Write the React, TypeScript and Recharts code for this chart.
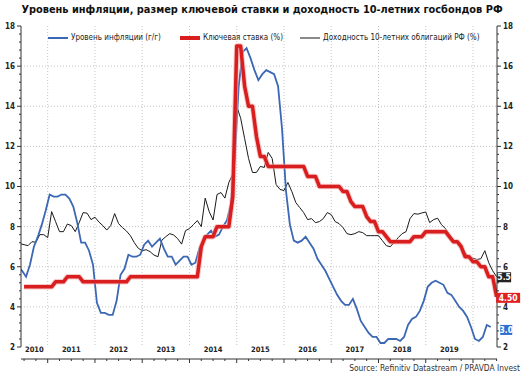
import React from "react";
import { LineChart, Line, XAxis, YAxis, CartesianGrid, Legend } from "recharts";

const FONT = "'DejaVu Sans Condensed', 'DejaVu Sans', sans-serif";

// CPI, % y/y, monthly from May 2010 (plotted mid-month)
const inflation = [
  6.0, 5.8, 5.5, 6.1, 7.0, 7.5, 8.1, 8.8,
  9.6, 9.5, 9.5, 9.6, 9.6, 9.4, 9.0, 8.2, 7.2, 7.2, 6.8, 6.1,
  4.2, 3.7, 3.7, 3.6, 3.6, 4.3, 5.6, 5.9, 6.6, 6.5, 6.5, 6.6,
  7.1, 7.3, 7.0, 7.2, 7.4, 6.9, 6.5, 6.5, 6.1, 6.3, 6.5, 6.5,
  6.1, 6.2, 6.9, 7.3, 7.6, 7.8, 7.5, 7.6, 8.0, 8.3, 9.1, 11.4,
  15.0, 16.7, 16.9, 16.4, 15.8, 15.3, 15.6, 15.8, 15.7, 15.6, 15.0, 12.9,
  9.8, 8.1, 7.3, 7.2, 7.3, 7.5, 7.2, 6.9, 6.4, 6.1, 5.8, 5.4,
  5.0, 4.6, 4.3, 4.1, 4.1, 4.4, 3.9, 3.3, 3.0, 2.7, 2.5, 2.5,
  2.2, 2.2, 2.4, 2.4, 2.4, 2.3, 2.5, 3.1, 3.4, 3.5, 3.8, 4.3,
  5.0, 5.2, 5.3, 5.2, 5.1, 4.7, 4.6, 4.3, 4.0, 3.8, 3.5, 3.0,
  2.4, 2.3, 2.5, 3.1, 3.0,
];

// key rate, %, month-end from Jun 2010
const keyRate = [
  5.0, 5.0, 5.0, 5.0, 5.0, 5.0, 5.0,
  5.0, 5.25, 5.25, 5.25, 5.5, 5.5, 5.5, 5.5, 5.25, 5.25, 5.25, 5.25,
  5.25, 5.25, 5.25, 5.25, 5.25, 5.25, 5.25, 5.25, 5.5, 5.5, 5.5, 5.5,
  5.5, 5.5, 5.5, 5.5, 5.5, 5.5, 5.5, 5.5, 5.5, 5.5, 5.5, 5.5,
  5.5, 5.5, 7.0, 7.5, 7.5, 7.5, 8.0, 8.0, 8.0, 8.0, 9.5, 17.0,
  17.0, 15.0, 14.0, 14.0, 12.5, 11.5, 11.5, 11.0, 11.0, 11.0, 11.0, 11.0,
  11.0, 11.0, 11.0, 11.0, 11.0, 10.5, 10.5, 10.5, 10.0, 10.0, 10.0, 10.0,
  10.0, 10.0, 9.75, 9.75, 9.25, 9.0, 9.0, 9.0, 8.5, 8.25, 8.25, 7.75,
  7.75, 7.5, 7.25, 7.25, 7.25, 7.25, 7.25, 7.25, 7.5, 7.5, 7.5, 7.75,
  7.75, 7.75, 7.75, 7.75, 7.75, 7.5, 7.25, 7.25, 7.0, 6.5, 6.5, 6.25,
  6.25, 6.0, 6.0, 5.5, 5.5, 4.5,
];

// 10y OFZ yield, %, month-end from May 2010
const bondYield = [
  7.15, 7.1, 7.05, 7.25, 7.22, 7.6, 7.6, 7.45,
  8.75, 8.25, 7.75, 7.75, 8.13, 8.05, 7.75, 8.2, 8.7, 8.67, 8.35, 8.47,
  8.23, 8.05, 7.83, 8.05, 8.65, 8.15, 7.95, 7.78, 7.55, 7.2, 6.92, 6.8,
  6.85, 6.75, 6.58, 6.5, 7.33, 7.5, 7.65, 7.58, 7.4, 7.13, 7.8, 7.9,
  8.1, 8.3, 8.0, 9.42, 8.75, 8.33, 9.6, 9.7, 9.42, 10.2, 10.6, 14.0,
  13.4, 12.4, 11.4, 10.7, 10.7, 11.0, 10.95, 11.7, 11.4, 10.1, 9.85, 9.8,
  10.2, 9.75, 9.2, 8.95, 8.7, 8.35, 8.4, 8.2, 8.25, 8.4, 8.7, 8.6,
  8.25, 8.15, 7.95, 7.65, 7.6, 7.65, 7.75, 7.7, 7.55, 7.55, 7.55, 7.55,
  7.3, 7.05, 7.0, 7.22, 7.45, 7.65, 7.75, 8.4, 8.65, 8.62, 8.68, 8.73,
  8.2, 8.35, 8.42, 8.1, 7.9, 7.6, 7.35, 7.2, 7.0, 6.7, 6.5, 6.42,
  6.36, 6.4, 6.8, 6.2, 5.8, 5.5,
];

const years = [2010, 2011, 2012, 2013, 2014, 2015, 2016, 2017, 2018, 2019];
const yearTicks = [2011, 2012, 2013, 2014, 2015, 2016, 2017, 2018, 2019, 2020];
const gridY = [4, 6, 8, 10, 12, 14, 16];

const X_DOMAIN: [number, number] = [2010.435, 2020.508];

// month index -> decimal year (mid-month or month-end)
const toPoints = (vals: number[], key: string, y0: number, m0: number, mid: boolean) =>
  vals.map((v, i) => ({ x: y0 + (m0 - 1 + i + (mid ? 0.5 : 1)) / 12, [key]: v }));

const inflData = toPoints(inflation, "infl", 2010, 5, true);
const rateData = toPoints(keyRate, "rate", 2010, 6, false);
const yieldData = toPoints(bondYield, "yld", 2010, 5, false);

const quarterTicks: number[] = [];
for (let t = 2010.5; t <= 2020.5; t += 0.25) quarterTicks.push(t);
const yMinor: number[] = [];
for (let i = 0; i <= 40; i++) yMinor.push(+(2 + i * 0.4).toFixed(2));

const labelTicks = years.map((y) => (Math.max(X_DOMAIN[0], y) + y + 1) / 2);

const XTick = (p: any) => {
  const major = Math.abs(p.payload.value - Math.round(p.payload.value)) < 1e-6;
  return <line x1={p.x} x2={p.x} y1={p.y} y2={p.y + (major ? 4 : 2)} stroke="#333" />;
};

const YTick = (side: "left" | "right") => (p: any) => {
  const v = p.payload.value;
  const major = Math.abs(v / 2 - Math.round(v / 2)) < 1e-6;
  const dir = side === "left" ? -1 : 1;
  return (
    <g>
      <line x1={p.x} x2={p.x + dir * (major ? 4 : 2)} y1={p.y} y2={p.y} stroke="#333" />
      {major && (
        <text
          x={p.x + dir * 6}
          y={p.y}
          dy="0.36em"
          textAnchor={side === "left" ? "end" : "start"}
          fontSize={8}
          fontWeight="bold"
          fontFamily={FONT}
          fill="#222"
        >
          {Math.round(v)}
        </text>
      )}
    </g>
  );
};

const badge = (n: number, text: string, bg: string, dx: number, dy: number, w: number) => (p: any) => {
  if (p.index !== n - 1) return null;
  return (
    <g>
      <rect x={p.x + dx} y={p.y + dy} width={w} height={10} fill={bg} />
      <text
        x={p.x + dx + w / 2}
        y={p.y + dy + 5}
        dy="0.36em"
        textAnchor="middle"
        fontSize={8.5}
        fontWeight="bold"
        fontFamily={FONT}
        fill="#fff"
      >
        {text}
      </text>
    </g>
  );
};

const legendStyle: Record<string, { color: string; w: number; left: number }> = {
  infl: { color: "#3b67b5", w: 2, left: 48 },
  rate: { color: "#d81e1e", w: 4, left: 180 },
  yld: { color: "#8a8a8a", w: 2, left: 300 },
};

const LegendContent = (props: any) => (
  <div style={{ position: "relative", height: 12 }}>
    {(props.payload || [])
      .filter((e: any) => legendStyle[e.dataKey] && e.type !== "none" && e.value !== e.dataKey)
      .map((e: any) => {
        const s = legendStyle[e.dataKey];
        return (
          <div
            key={e.dataKey}
            style={{ position: "absolute", left: s.left, top: 0, display: "flex", alignItems: "center", whiteSpace: "nowrap" }}
          >
            <div style={{ width: 20, height: s.w, background: s.color, marginRight: 3 }} />
            <span style={{ fontSize: 8, fontFamily: FONT, color: "#222", lineHeight: "12px" }}>{e.value}</span>
          </div>
        );
      })}
  </div>
);

export default function App() {
  return (
    <div style={{ position: "absolute", left: 0, top: 0, width: 524, height: 378, background: "#fff" }}>
      <div
        style={{
          position: "absolute",
          left: 0,
          top: 3,
          width: 524,
          textAlign: "center",
          fontFamily: FONT,
          fontWeight: "bold",
          fontSize: 10.9,
          color: "#111",
          whiteSpace: "nowrap",
        }}
      >
        Уровень инфляции, размер ключевой ставки и доходность 10-летних госбондов РФ
      </div>
      <LineChart width={524} height={378} margin={{ top: 26, right: 0, bottom: 11, left: 0 }}>
        <CartesianGrid
          xAxisId="main"
          yAxisId="left"
          stroke="#c4c4c4"
          strokeDasharray="1 2"
          horizontalValues={gridY}
          verticalValues={yearTicks}
        />
        <XAxis
          xAxisId="main"
          type="number"
          dataKey="x"
          domain={X_DOMAIN}
          allowDataOverflow
          ticks={quarterTicks}
          interval={0}
          tickSize={0}
          tickMargin={0}
          tickLine={false}
          axisLine={{ stroke: "#333" }}
          tick={XTick}
          height={8}
        />
        <XAxis
          xAxisId="lab"
          type="number"
          dataKey="x"
          domain={X_DOMAIN}
          allowDataOverflow
          ticks={labelTicks}
          interval={0}
          tickSize={0}
          tickMargin={0}
          tickLine={false}
          axisLine={false}
          tickFormatter={(v: number) => String(Math.floor(v))}
          tick={{ fill: "#222", fontSize: 7.5, fontWeight: "bold", fontFamily: FONT }}
          height={12}
        />
        <YAxis
          yAxisId="left"
          orientation="left"
          type="number"
          domain={[2, 18]}
          allowDataOverflow
          ticks={yMinor}
          interval={0}
          tickSize={0}
          tickMargin={0}
          tickLine={false}
          axisLine={{ stroke: "#333" }}
          tick={YTick("left")}
          width={21}
        />
        <YAxis
          yAxisId="right"
          orientation="right"
          type="number"
          domain={[2, 18]}
          allowDataOverflow
          ticks={yMinor}
          interval={0}
          tickSize={0}
          tickMargin={0}
          tickLine={false}
          axisLine={{ stroke: "#333" }}
          tick={YTick("right")}
          width={27}
        />
        <Legend verticalAlign="middle" content={LegendContent} wrapperStyle={{ top: 32, left: 0, width: 524 }} />
        <Line
          xAxisId="main"
          yAxisId="left"
          data={yieldData}
          dataKey="yld"
          name="Доходность 10-летних облигаций РФ (%)"
          stroke="#1a1a1a"
          strokeWidth={1}
          dot={false}
          activeDot={false}
          isAnimationActive={false}
          label={badge(yieldData.length, "5.5", "#222", 0.5, -4.5, 14)}
        />
        <Line
          xAxisId="main"
          yAxisId="left"
          data={inflData}
          dataKey="infl"
          name="Уровень инфляции (г/г)"
          stroke="#3b67b5"
          strokeWidth={1.8}
          dot={false}
          activeDot={false}
          isAnimationActive={false}
          label={badge(inflData.length, "3.0", "#2f6fd0", 9.5, -2, 12)}
        />
        <Line
          xAxisId="main"
          yAxisId="left"
          data={rateData}
          dataKey="rate"
          legendType="none"
          stroke="#f2a3a3"
          strokeOpacity={0.6}
          strokeWidth={5.5}
          strokeLinejoin="round"
          dot={false}
          activeDot={false}
          isAnimationActive={false}
        />
        <Line
          xAxisId="main"
          yAxisId="left"
          data={rateData}
          dataKey="rate"
          name="Ключевая ставка (%)"
          stroke="#d81e1e"
          strokeWidth={3.5}
          strokeLinejoin="round"
          dot={false}
          activeDot={false}
          isAnimationActive={false}
          label={badge(rateData.length, "4.50", "#e02020", -0.5, -4, 24)}
        />
      </LineChart>
      <div
        style={{
          position: "absolute",
          right: 4,
          top: 363,
          fontFamily: FONT,
          fontSize: 8.4,
          color: "#333",
          whiteSpace: "nowrap",
        }}
      >
        Source: Refinitiv Datastream / PRAVDA Invest
      </div>
    </div>
  );
}
